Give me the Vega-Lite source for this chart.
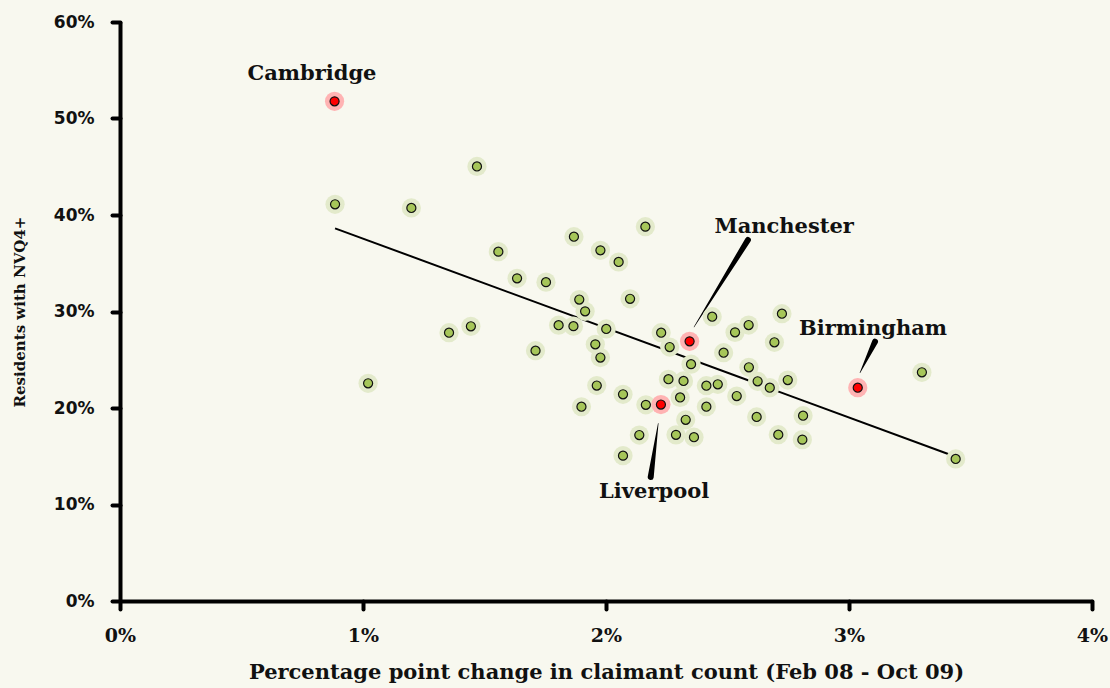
{
  "$schema": "https://vega.github.io/schema/vega-lite/v6.json",
  "width": 972,
  "height": 579,
  "autosize": {"type": "none"},
  "padding": {"left": 120, "top": 22, "right": 18, "bottom": 87},
  "background": "#f8f8ef",
  "config": {
    "view": {"stroke": null},
    "axis": {
      "grid": false,
      "domainColor": "#000000",
      "domainWidth": 4,
      "tickColor": "#000000",
      "tickWidth": 4,
      "tickSize": 8,
      "tickCap": "round",
      "labelColor": "#111111",
      "titleColor": "#111111",
      "labelFontWeight": "bold",
      "titleFontWeight": "bold",
      "titleFont": "DejaVu Serif",
      "labelFont": "DejaVu Serif"
    }
  },
  "datasets": {
    "points": [
      {"x": 0.883, "y": 51.78, "city": "Cambridge", "hl": 1},
      {"x": 0.885, "y": 41.11, "city": "", "hl": 0},
      {"x": 1.199, "y": 40.73, "city": "", "hl": 0},
      {"x": 1.469, "y": 45.03, "city": "", "hl": 0},
      {"x": 1.557, "y": 36.2, "city": "", "hl": 0},
      {"x": 1.634, "y": 33.44, "city": "", "hl": 0},
      {"x": 1.753, "y": 33.04, "city": "", "hl": 0},
      {"x": 1.868, "y": 37.75, "city": "", "hl": 0},
      {"x": 1.977, "y": 36.34, "city": "", "hl": 0},
      {"x": 2.052, "y": 35.13, "city": "", "hl": 0},
      {"x": 2.162, "y": 38.79, "city": "", "hl": 0},
      {"x": 1.89, "y": 31.24, "city": "", "hl": 0},
      {"x": 1.914, "y": 30.02, "city": "", "hl": 0},
      {"x": 2.099, "y": 31.32, "city": "", "hl": 0},
      {"x": 1.354, "y": 27.8, "city": "", "hl": 0},
      {"x": 1.444, "y": 28.47, "city": "", "hl": 0},
      {"x": 1.805, "y": 28.58, "city": "", "hl": 0},
      {"x": 1.866, "y": 28.48, "city": "", "hl": 0},
      {"x": 2.001, "y": 28.19, "city": "", "hl": 0},
      {"x": 2.227, "y": 27.8, "city": "", "hl": 0},
      {"x": 2.344, "y": 26.91, "city": "Manchester", "hl": 1},
      {"x": 2.262, "y": 26.32, "city": "", "hl": 0},
      {"x": 1.956, "y": 26.6, "city": "", "hl": 0},
      {"x": 1.977, "y": 25.23, "city": "", "hl": 0},
      {"x": 2.35, "y": 24.54, "city": "", "hl": 0},
      {"x": 1.71, "y": 25.94, "city": "", "hl": 0},
      {"x": 1.021, "y": 22.56, "city": "", "hl": 0},
      {"x": 2.437, "y": 29.46, "city": "", "hl": 0},
      {"x": 2.587, "y": 28.6, "city": "", "hl": 0},
      {"x": 2.531, "y": 27.84, "city": "", "hl": 0},
      {"x": 2.724, "y": 29.77, "city": "", "hl": 0},
      {"x": 2.693, "y": 26.81, "city": "", "hl": 0},
      {"x": 2.484, "y": 25.73, "city": "", "hl": 0},
      {"x": 2.588, "y": 24.22, "city": "", "hl": 0},
      {"x": 2.257, "y": 22.98, "city": "", "hl": 0},
      {"x": 2.319, "y": 22.8, "city": "", "hl": 0},
      {"x": 2.413, "y": 22.31, "city": "", "hl": 0},
      {"x": 2.46, "y": 22.46, "city": "", "hl": 0},
      {"x": 2.624, "y": 22.77, "city": "", "hl": 0},
      {"x": 2.674, "y": 22.1, "city": "", "hl": 0},
      {"x": 2.748, "y": 22.9, "city": "", "hl": 0},
      {"x": 1.962, "y": 22.33, "city": "", "hl": 0},
      {"x": 2.07, "y": 21.42, "city": "", "hl": 0},
      {"x": 2.305, "y": 21.09, "city": "", "hl": 0},
      {"x": 2.538, "y": 21.24, "city": "", "hl": 0},
      {"x": 2.413, "y": 20.13, "city": "", "hl": 0},
      {"x": 1.899, "y": 20.13, "city": "", "hl": 0},
      {"x": 2.164, "y": 20.33, "city": "", "hl": 0},
      {"x": 2.226, "y": 20.36, "city": "Liverpool", "hl": 1},
      {"x": 2.328, "y": 18.78, "city": "", "hl": 0},
      {"x": 2.62, "y": 19.07, "city": "", "hl": 0},
      {"x": 2.811, "y": 19.2, "city": "", "hl": 0},
      {"x": 2.137, "y": 17.2, "city": "", "hl": 0},
      {"x": 2.288, "y": 17.22, "city": "", "hl": 0},
      {"x": 2.362, "y": 16.97, "city": "", "hl": 0},
      {"x": 2.709, "y": 17.23, "city": "", "hl": 0},
      {"x": 2.808, "y": 16.72, "city": "", "hl": 0},
      {"x": 2.07, "y": 15.06, "city": "", "hl": 0},
      {"x": 3.036, "y": 22.1, "city": "Birmingham", "hl": 1},
      {"x": 3.3, "y": 23.7, "city": "", "hl": 0},
      {"x": 3.439, "y": 14.72, "city": "", "hl": 0}
    ],
    "trend": [
      {"x": 0.885, "y": 38.62},
      {"x": 3.439, "y": 14.95}
    ],
    "labels": [
      {"x": 0.79, "y": 54.6, "city": "Cambridge"},
      {"x": 2.733, "y": 38.76, "city": "Manchester"},
      {"x": 3.099, "y": 28.19, "city": "Birmingham"},
      {"x": 2.198, "y": 11.3, "city": "Liverpool"}
    ],
    "wedges": [
      {"city": "Manchester", "x": 2.584, "y": 37.41, "w": 1, "o": 0},
      {"city": "Manchester", "x": 2.362, "y": 28.39, "w": 0, "o": 1},
      {"city": "Birmingham", "x": 3.107, "y": 26.87, "w": 1, "o": 0},
      {"city": "Birmingham", "x": 3.045, "y": 23.65, "w": 0, "o": 1},
      {"city": "Liverpool", "x": 2.184, "y": 12.85, "w": 1, "o": 0},
      {"city": "Liverpool", "x": 2.215, "y": 18.41, "w": 0, "o": 1}
    ]
  },
  "layer": [
    {
      "data": {"name": "trend"},
      "mark": {"type": "line", "color": "#000000", "strokeWidth": 2},
      "encoding": {
        "x": {
          "field": "x", "type": "quantitative",
          "scale": {"domain": [0, 4], "nice": false},
          "axis": {
            "values": [0, 1, 2, 3, 4],
            "labelExpr": "datum.value + '%'",
            "labelFontSize": 19,
            "labelFlush": false,
            "labelPadding": 17,
            "title": "Percentage point change in claimant count (Feb 08 - Oct 09)",
            "titleFontSize": 21,
            "titleY": 71,
            "titleBaseline": "middle"
          }
        },
        "y": {
          "field": "y", "type": "quantitative",
          "scale": {"domain": [0, 60], "nice": false},
          "axis": {
            "values": [0, 10, 20, 30, 40, 50, 60],
            "labelExpr": "datum.value + '%'",
            "labelFont": "DejaVu Sans",
            "labelFontSize": 17,
            "labelPadding": 18,
            "title": "Residents with NVQ4+",
            "titleFontSize": 15,
            "titleX": -101,
            "titleBaseline": "middle"
          }
        }
      }
    },
    {
      "data": {"name": "wedges"},
      "mark": {"type": "trail", "color": "#000000"},
      "encoding": {
        "x": {"field": "x", "type": "quantitative"},
        "y": {"field": "y", "type": "quantitative"},
        "detail": {"field": "city"},
        "order": {"field": "o"},
        "size": {"field": "w", "type": "quantitative", "scale": {"domain": [0, 1], "range": [0.5, 6]}, "legend": null}
      }
    },
    {
      "data": {"name": "points"},
      "mark": {"type": "point", "filled": true, "size": 370, "opacity": 1, "strokeWidth": 0},
      "encoding": {
        "x": {"field": "x", "type": "quantitative"},
        "y": {"field": "y", "type": "quantitative"},
        "order": {"field": "hl"},
        "color": {"field": "hl", "type": "nominal", "scale": {"domain": [0, 1], "range": ["#e3eacb", "#ffb3b3"]}, "legend": null}
      }
    },
    {
      "data": {"name": "points"},
      "mark": {"type": "point", "filled": true, "size": 82, "opacity": 1, "stroke": "#111111", "strokeWidth": 1.2},
      "encoding": {
        "x": {"field": "x", "type": "quantitative"},
        "y": {"field": "y", "type": "quantitative"},
        "order": {"field": "hl"},
        "fill": {"field": "hl", "type": "nominal", "scale": {"domain": [0, 1], "range": ["#a6c659", "#ff0000"]}, "legend": null}
      }
    },
    {
      "data": {"name": "labels"},
      "mark": {"type": "text", "font": "DejaVu Serif", "fontWeight": "bold", "fontSize": 21, "color": "#111111", "baseline": "middle", "align": "center"},
      "encoding": {
        "x": {"field": "x", "type": "quantitative"},
        "y": {"field": "y", "type": "quantitative"},
        "text": {"field": "city"}
      }
    }
  ]
}
